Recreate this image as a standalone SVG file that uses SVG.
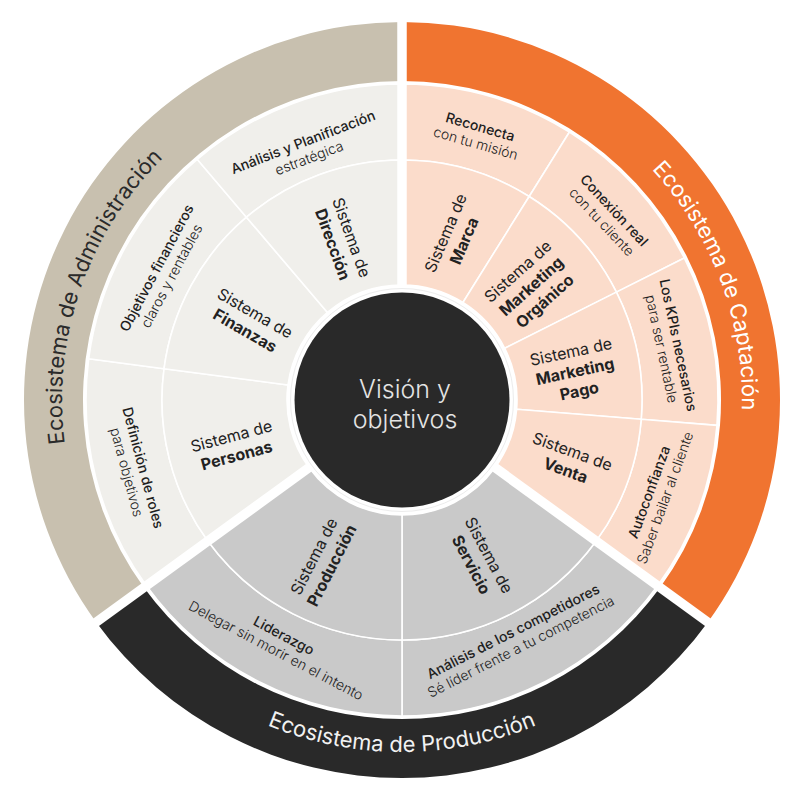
<svg xmlns="http://www.w3.org/2000/svg" width="802" height="794" viewBox="0 0 802 794">
<style>
  text { font-family: Inter, "Liberation Sans", sans-serif; }
  .cell { stroke: #ffffff; stroke-width: 1.6; stroke-linejoin: round; }
  .adm-band { fill: #C8C0AF; }
  .cap-band { fill: #F07430; }
  .pro-band { fill: #292929; }
  .adm { fill: #F0EFEB; }
  .cap { fill: #FBDCCB; }
  .pro { fill: #C9C9C9; }
  .gap { stroke: #ffffff; stroke-width: 9.5; }
  .band-label { font-size: 22px; font-weight: 400; }
  .sys { font-size: 16px; fill: #222222; text-anchor: middle; }
  .sys .n { font-weight: 400; }
  .sys .b { font-weight: 700; }
  .out { font-size: 14px; fill: #1e1e1e; text-anchor: middle; }
  .out .t { font-weight: 500; }
  .out .s { font-weight: 300; }
</style>
<defs>
  <path id="arcAdm" d="M 110.56 575.11 A 340 340 0 0 1 280.15 82.58"/>
  <path id="arcCap" d="M 518.29 80.50 A 340 340 0 0 1 699.37 564.84"/>
  <path id="arcPro" d="M 132.36 626.27 A 352 352 0 0 0 671.64 626.27"/>
</defs>

<!-- Ecosystem bands -->
<g id="eco-administracion">
  <path class="adm-band" d="M 96.19 622.19 A 378 378 0 0 1 402 22 L 402 81 A 319 319 0 0 0 143.92 587.51 Z"/>
  <text class="band-label" fill="#2b2b2b"><textPath href="#arcAdm" startOffset="50%" text-anchor="middle">Ecosistema de Administración</textPath></text>
</g>
<g id="eco-captacion">
  <path class="cap-band" d="M 402 22 A 378 378 0 0 1 707.81 622.19 L 660.08 587.51 A 319 319 0 0 0 402 81 Z"/>
  <text class="band-label" fill="#ffffff"><textPath href="#arcCap" startOffset="50%" text-anchor="middle">Ecosistema de Captación</textPath></text>
</g>
<g id="eco-produccion">
  <path class="pro-band" d="M 707.81 622.19 A 378 378 0 0 1 96.19 622.19 L 143.92 587.51 A 319 319 0 0 0 660.08 587.51 Z"/>
  <text class="band-label" fill="#f2f2f2"><textPath href="#arcPro" startOffset="50%" text-anchor="middle">Ecosistema de Producción</textPath></text>
</g>

<!-- Outer cells -->
<g id="definicion-roles">
  <path class="cell adm" d="M 146.35 585.74 A 316 316 0 0 1 88.70 358.75 L 164.05 368.67 A 240 240 0 0 0 207.84 541.07 Z"/>
  <text class="out" transform="translate(135 470) rotate(75)"><tspan class="t" x="0" y="-3.5">Definición de roles</tspan><tspan class="s" x="0" y="13.5">para objetivos</tspan></text>
</g>
<g id="objetivos-financieros">
  <path class="cell adm" d="M 88.70 358.75 A 316 316 0 0 1 197.19 159.35 L 246.45 217.23 A 240 240 0 0 0 164.05 368.67 Z"/>
  <text class="out" transform="translate(164 272) rotate(-62)"><tspan class="t" x="0" y="-3.5">Objetivos financieros</tspan><tspan class="s" x="0" y="13.5">claros y rentables</tspan></text>
</g>
<g id="analisis-planificacion">
  <path class="cell adm" d="M 197.19 159.35 A 316 316 0 0 1 402 84 L 402 160 A 240 240 0 0 0 246.45 217.23 Z"/>
  <text class="out" transform="translate(306 150) rotate(-21)"><tspan class="t" x="0" y="-3.5">Análisis y Planificación</tspan><tspan class="s" x="0" y="13.5">estratégica</tspan></text>
</g>
<g id="reconecta">
  <path class="cell cap" d="M 402 84 A 316 316 0 0 1 569.45 132.02 L 529.18 196.47 A 240 240 0 0 0 402 160 Z"/>
  <text class="out" transform="translate(478 135) rotate(16)"><tspan class="t" x="0" y="-3.5">Reconecta</tspan><tspan class="s" x="0" y="13.5">con tu misión</tspan></text>
</g>
<g id="conexion-real">
  <path class="cell cap" d="M 569.45 132.02 A 316 316 0 0 1 684.30 258.01 L 616.41 292.16 A 240 240 0 0 0 529.18 196.47 Z"/>
  <text class="out" transform="translate(608 216) rotate(47)"><tspan class="t" x="0" y="-3.5">Conexión real</tspan><tspan class="s" x="0" y="13.5">con tu cliente</tspan></text>
</g>
<g id="kpis">
  <path class="cell cap" d="M 684.30 258.01 A 316 316 0 0 1 716.98 425.34 L 641.23 419.25 A 240 240 0 0 0 616.41 292.16 Z"/>
  <text class="out" transform="translate(670 347) rotate(78)"><tspan class="t" x="0" y="-3.5">Los KPIs necesarios</tspan><tspan class="s" x="0" y="13.5">para ser rentable</tspan></text>
</g>
<g id="autoconfianza">
  <path class="cell cap" d="M 716.98 425.34 A 316 316 0 0 1 657.65 585.74 L 596.16 541.07 A 240 240 0 0 0 641.23 419.25 Z"/>
  <text class="out" transform="translate(657 495) rotate(-70)"><tspan class="t" x="0" y="-3.5">Autoconfianza</tspan><tspan class="s" x="0" y="13.5">Saber bailar al cliente</tspan></text>
</g>
<g id="analisis-competidores">
  <path class="cell pro" d="M 657.65 585.74 A 316 316 0 0 1 402 716 L 402 640 A 240 240 0 0 0 596.16 541.07 Z"/>
  <text class="out" transform="translate(517 639) rotate(-27)"><tspan class="t" x="0" y="-3.5">Análisis de los competidores</tspan><tspan class="s" x="0" y="13.5">Sé líder frente a tu competencia</tspan></text>
</g>
<g id="liderazgo">
  <path class="cell pro" d="M 402 716 A 316 316 0 0 1 146.35 585.74 L 207.84 541.07 A 240 240 0 0 0 402 640 Z"/>
  <text class="out" transform="translate(280 643) rotate(28)"><tspan class="t" x="0" y="-3.5">Liderazgo</tspan><tspan class="s" x="0" y="13.5">Delegar sin morir en el intento</tspan></text>
</g>

<!-- Inner cells (systems) -->
<g id="sistema-personas">
  <path class="cell adm" d="M 207.84 541.07 A 240 240 0 0 1 164.05 368.67 L 287.98 384.99 A 115 115 0 0 0 308.96 467.60 Z"/>
  <text class="sys" transform="translate(234 446) rotate(-15)"><tspan class="n" x="0" y="-4.5">Sistema de</tspan><tspan class="b" x="0" y="15.5">Personas</tspan></text>
</g>
<g id="sistema-finanzas">
  <path class="cell adm" d="M 164.05 368.67 A 240 240 0 0 1 246.45 217.23 L 327.47 312.42 A 115 115 0 0 0 287.98 384.99 Z"/>
  <text class="sys" transform="translate(250 322) rotate(30)"><tspan class="n" x="0" y="-4.5">Sistema de</tspan><tspan class="b" x="0" y="15.5">Finanzas</tspan></text>
</g>
<g id="sistema-direccion">
  <path class="cell adm" d="M 246.45 217.23 A 240 240 0 0 1 402 160 L 402 285 A 115 115 0 0 0 327.47 312.42 Z"/>
  <text class="sys" transform="translate(342 241) rotate(70)"><tspan class="n" x="0" y="-4.5">Sistema de</tspan><tspan class="b" x="0" y="15.5">Dirección</tspan></text>
</g>
<g id="sistema-marca">
  <path class="cell cap" d="M 402 160 A 240 240 0 0 1 529.18 196.47 L 462.94 302.47 A 115 115 0 0 0 402 285 Z"/>
  <text class="sys" transform="translate(455 237) rotate(-67)"><tspan class="n" x="0" y="-4.5">Sistema de</tspan><tspan class="b" x="0" y="15.5">Marca</tspan></text>
</g>
<g id="sistema-marketing-organico">
  <path class="cell cap" d="M 529.18 196.47 A 240 240 0 0 1 616.41 292.16 L 504.74 348.33 A 115 115 0 0 0 462.94 302.47 Z"/>
  <text class="sys" transform="translate(531 286) rotate(-42)"><tspan class="n" x="0" y="-14">Sistema de</tspan><tspan class="b" x="0" y="6">Marketing</tspan><tspan class="b" x="0" y="26">Orgánico</tspan></text>
</g>
<g id="sistema-marketing-pago">
  <path class="cell cap" d="M 616.41 292.16 A 240 240 0 0 1 641.23 419.25 L 516.63 409.22 A 115 115 0 0 0 504.74 348.33 Z"/>
  <text class="sys" transform="translate(575 371) rotate(-12)"><tspan class="n" x="0" y="-14">Sistema de</tspan><tspan class="b" x="0" y="6">Marketing</tspan><tspan class="b" x="0" y="26">Pago</tspan></text>
</g>
<g id="sistema-venta">
  <path class="cell cap" d="M 641.23 419.25 A 240 240 0 0 1 596.16 541.07 L 495.04 467.60 A 115 115 0 0 0 516.63 409.22 Z"/>
  <text class="sys" transform="translate(569 461) rotate(20)"><tspan class="n" x="0" y="-4.5">Sistema de</tspan><tspan class="b" x="0" y="15.5">Venta</tspan></text>
</g>
<g id="sistema-servicio">
  <path class="cell pro" d="M 596.16 541.07 A 240 240 0 0 1 402 640 L 402 515 A 115 115 0 0 0 495.04 467.60 Z"/>
  <text class="sys" transform="translate(480 560) rotate(62)"><tspan class="n" x="0" y="-4.5">Sistema de</tspan><tspan class="b" x="0" y="15.5">Servicio</tspan></text>
</g>
<g id="sistema-produccion">
  <path class="cell pro" d="M 402 640 A 240 240 0 0 1 207.84 541.07 L 308.96 467.60 A 115 115 0 0 0 402 515 Z"/>
  <text class="sys" transform="translate(323 561) rotate(-63)"><tspan class="n" x="0" y="-4.5">Sistema de</tspan><tspan class="b" x="0" y="15.5">Producción</tspan></text>
</g>

<!-- Separators between ecosystems -->
<g id="connectors">
  <line class="gap" x1="402" y1="400" x2="402" y2="8"/>
  <line class="gap" x1="402" y1="400" x2="717.52" y2="629.24"/>
  <line class="gap" x1="402" y1="400" x2="86.48" y2="629.24"/>
</g>

<!-- Center -->
<g id="vision-objetivos">
  <circle cx="402" cy="400" r="115" fill="#ffffff"/>
  <circle cx="402" cy="400" r="111.5" fill="none" stroke="#ececec" stroke-width="1"/>
  <circle cx="402" cy="400" r="107.5" fill="#292929"/>
  <text x="405" y="398" font-size="25" fill="#e4e4e4" text-anchor="middle" font-weight="300">Visión y</text>
  <text x="405" y="428" font-size="25" fill="#e4e4e4" text-anchor="middle" font-weight="300">objetivos</text>
</g>
</svg>
